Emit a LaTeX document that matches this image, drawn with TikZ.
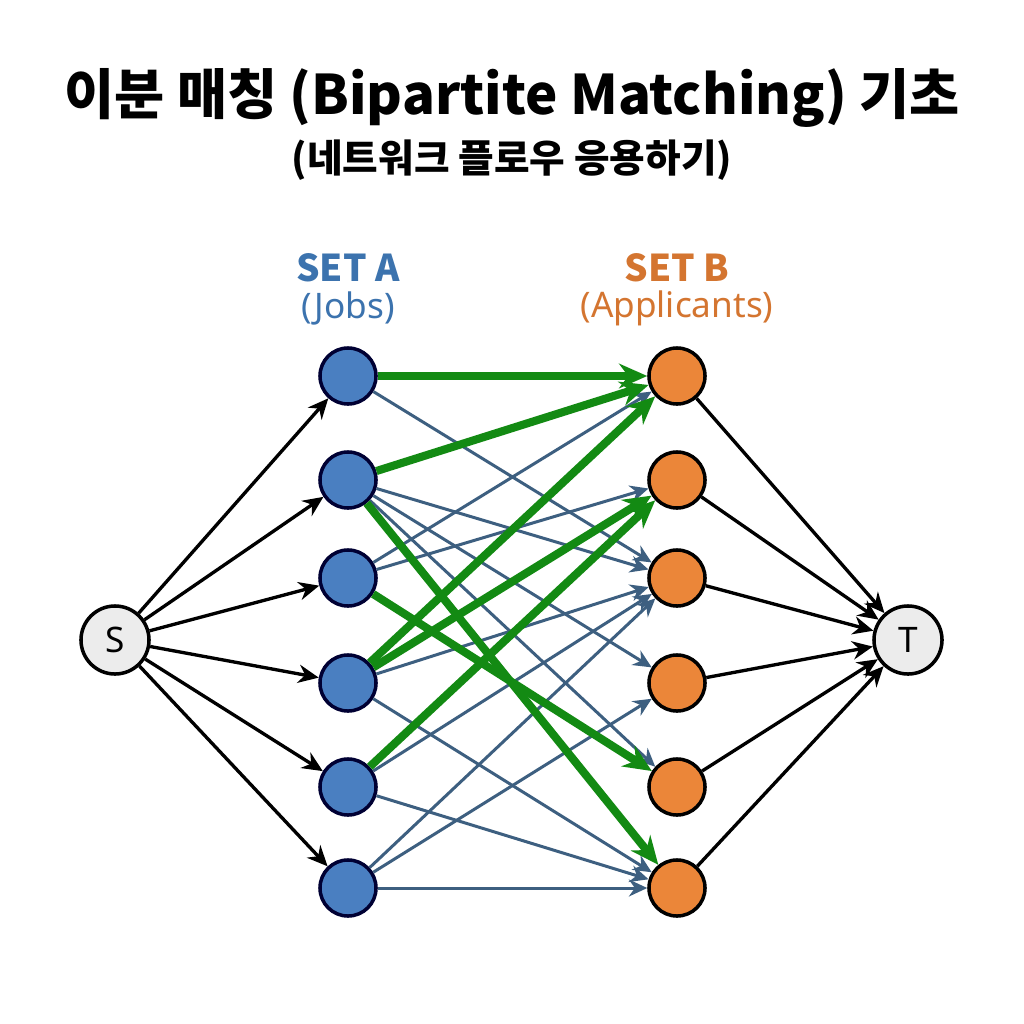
\documentclass[tikz,border=0pt]{standalone}
\usepackage{fontspec}
\setmainfont{Noto Sans}
\newfontfamily\krfont{Noto Sans CJK KR}
\usetikzlibrary{arrows.meta}
\definecolor{jobblue}{HTML}{4A7FC1}
\definecolor{setblue}{HTML}{3C73AE}
\definecolor{appor}{HTML}{EB8639}
\definecolor{setor}{HTML}{D47530}
\definecolor{edgeblue}{HTML}{3D5F80}
\definecolor{matchgreen}{HTML}{138A13}
\tikzset{
  anode/.style={circle,draw=black!80!blue,line width=1pt,fill=jobblue,minimum size=0.56cm,inner sep=0pt},
  bnode/.style={circle,draw=black,line width=1pt,fill=appor,minimum size=0.56cm,inner sep=0pt},
  stnode/.style={circle,draw=black,line width=1pt,fill=gray!15,minimum size=0.68cm,inner sep=0pt,font=\fontsize{10}{12}\selectfont},
  arr/.style={-{Stealth[length=5.8pt,width=5.2pt]},line width=0.95pt},
  earr/.style={-{Stealth[length=5.2pt,width=4.8pt]},line width=0.85pt,edgeblue},
  marr/.style={-{Stealth[length=8pt,width=7pt]},line width=2.3pt,matchgreen},
  lbl/.style={font=\krfont\fontsize{10.5}{12}\selectfont\bfseries,align=center},
  sublbl/.style={font=\fontsize{10}{12}\selectfont,align=center}
}
\begin{document}
\begin{tikzpicture}[x=0.01cm,y=-0.01cm]
  \useasboundingbox[fill=white] (0,0) rectangle (1024,1024);

  % titles
  \node[font=\krfont\bfseries\fontsize{15.5}{18}\selectfont] (title) at (512,98) {이분 매칭 (Bipartite Matching) 기초};
  \node[font=\krfont\bfseries\fontsize{11}{13}\selectfont] (subtitle) at (512,160) {(네트워크 플로우 응용하기)};

  % set headers
  \node[lbl,setblue] (seta) at (348,268) {SET A};
  \node[sublbl,setblue] (jobs) at (348,308) {(Jobs)};
  \node[lbl,setor] (setb) at (677,268) {SET B};
  \node[sublbl,setor] (appl) at (677,308) {(Applicants)};

  % source / sink
  \node[stnode] (s) at (115,640) {S};
  \node[stnode] (t) at (908,640) {T};

  % both sides
  \foreach \i/\y in {1/376,2/480,3/578,4/683,5/787,6/888} {
    \node[anode] (a\i) at (348,\y) {};
    \node[bnode] (b\i) at (677,\y) {};
  }

  \foreach \i in {1,...,6} {
    \draw[arr] (s) -- (a\i);
    \draw[arr] (b\i) -- (t);
  }

  % other possible edges
  \foreach \u/\v in {1/3,2/3,2/4,2/5,3/1,3/2,4/3,4/6,5/3,5/6,6/3,6/4,6/6}
    \draw[earr] (a\u) -- (b\v);

  % matching edges
  \foreach \u/\v in {1/1,2/1,2/6,3/5,4/1,4/2,5/2}
    \draw[marr] (a\u) -- (b\v);
\end{tikzpicture}
\end{document}
